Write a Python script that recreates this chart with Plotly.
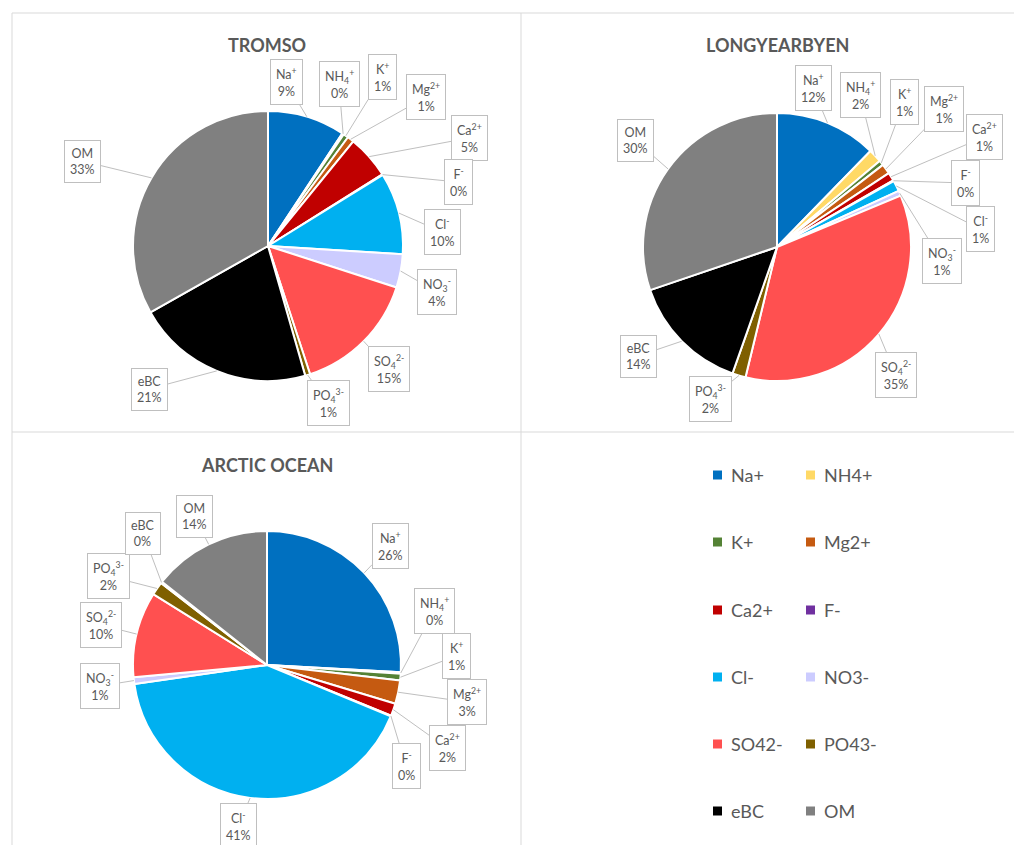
import math
import plotly.graph_objects as go

# ---------------- data ----------------
categories = ["Na+", "NH4+", "K+", "Mg2+", "Ca2+", "F-", "Cl-", "NO3-", "SO42-", "PO43-", "eBC", "OM"]
callout_names = ["Na<sup>+</sup>", "NH<sub>4</sub><sup>+</sup>", "K<sup>+</sup>", "Mg<sup>2+</sup>",
                 "Ca<sup>2+</sup>", "F<sup>-</sup>", "Cl<sup>-</sup>", "NO<sub>3</sub><sup>-</sup>",
                 "SO<sub>4</sub><sup>2-</sup>", "PO<sub>4</sub><sup>3-</sup>", "eBC", "OM"]

tromso = [9.3, 0.2, 0.6, 0.8, 5.2, 0.1, 9.8, 4.0, 15.0, 0.6, 21.3, 33.2]
longyearbyen = [12.2, 1.6, 0.6, 1.2, 1.0, 0.1, 1.3, 0.6, 34.8, 1.6, 14.3, 30.0]
arctic_ocean = [25.8, 0.2, 0.8, 2.8, 1.5, 0.1, 41.4, 0.8, 10.3, 1.6, 0.2, 14.3]

site_titles = ["TROMSO", "LONGYEARBYEN", "ARCTIC OCEAN"]

# ---------------- styles / layout ----------------
colors = ["#0070C0", "#FFD966", "#548235", "#C55A11", "#C00000", "#7030A0",
          "#00B0F0", "#CCCCFF", "#FF5050", "#7F6000", "#000000", "#808080"]

W, H = 1022, 845          # browser window
OFF = 8                    # default page body margin
FW, FH = W - OFF, H - OFF  # figure size
FONT = "Lato, 'Open Sans', sans-serif"
TXT = "#595959"
GRID = "#D9D9D9"

# pie centre (screen px), radius (px)
pie_geom = [(268, 246, 135), (777, 247, 134), (267, 665, 134)]
title_pos = [(267, 45), (777, 45), (267, 465)]

# callout box centres (screen px) for each category, per site
callout_pos = [
    [(286, 82), (339, 84), (382, 77), (426, 97), (469, 138), (458, 182),
     (442, 232), (437, 292), (389, 369), (328, 403), (149, 389), (82, 161)],
    [(813, 88), (860, 95), (904, 102), (944, 109), (984, 137), (965, 183),
     (980, 229), (942, 261), (896, 375), (710, 399), (638, 356), (635, 140)],
    [(390, 546), (434, 611), (456, 656), (467, 702), (447, 748), (406, 766),
     (238, 826), (100, 686), (101, 625), (108, 576), (143, 533), (194, 516)],
]

legend_cols = [713, 806]
legend_rows = [475, 542, 610, 677, 744, 811]

fig = go.Figure()

# hidden screen-pixel axes for annotations / shapes
fig.add_trace(go.Scatter(x=[], y=[], showlegend=False, hoverinfo="skip"))

annotations = []
for s, (vals, title) in enumerate(zip([tromso, longyearbyen, arctic_ocean], site_titles)):
    cx, cy, r = pie_geom[s]
    fig.add_trace(go.Pie(
        labels=categories, values=vals, sort=False, direction="clockwise", rotation=0,
        marker=dict(colors=colors, line=dict(color="white", width=2)),
        textinfo="none", showlegend=False, name=title,
        domain=dict(x=[(cx - r - OFF) / FW, (cx + r - OFF) / FW],
                    y=[1 - (cy + r - OFF) / FH, 1 - (cy - r - OFF) / FH]),
    ))
    total = sum(vals)
    cum = 0.0
    for i, v in enumerate(vals):
        mid = (cum + v / 2) / total * 2 * math.pi
        cum += v
        tx = cx + r * math.sin(mid)
        ty = cy - r * math.cos(mid)
        bx, by = callout_pos[s][i]
        pct = int(v / total * 100 + 0.5)
        annotations.append(dict(
            x=tx, y=ty, xref="x", yref="y", ax=bx, ay=by, axref="x", ayref="y",
            text=f"{callout_names[i]}<br>{pct}%", showarrow=True, arrowhead=0,
            arrowwidth=1, arrowcolor="#BFBFBF", standoff=0, startstandoff=0,
            bordercolor="#BFBFBF", borderwidth=1, borderpad=5, bgcolor="white",
            font=dict(family=FONT, size=12.5, color=TXT),
        ))
    tx, ty = title_pos[s]
    annotations.append(dict(
        x=tx, y=ty, xref="x", yref="y", text=f"<b>{title}</b>", showarrow=False,
        font=dict(family=FONT, size=18, color=TXT),
    ))

# legend (two columns)
shapes = []
for i, (cat, col) in enumerate(zip(categories, colors)):
    lx = legend_cols[i % 2]
    ly = legend_rows[i // 2]
    shapes.append(dict(type="rect", xref="x", yref="y", x0=lx, x1=lx + 9, y0=ly - 4.5, y1=ly + 4.5,
                       fillcolor=col, line=dict(width=0)))
    annotations.append(dict(
        x=lx + 16, y=ly, xref="x", yref="y", xanchor="left", yanchor="middle",
        text=cat, showarrow=False, font=dict(family=FONT, size=18, color=TXT),
    ))

# panel borders
for x0, y0, x1, y1 in [(12, 13, W, 13), (12, 13, 12, H), (521, 13, 521, H), (12, 432, W, 432)]:
    shapes.append(dict(type="line", xref="x", yref="y", x0=x0, y0=y0, x1=x1, y1=y1,
                       line=dict(color=GRID, width=1), layer="below"))

fig.update_layout(
    width=FW, height=FH, margin=dict(l=0, r=0, t=0, b=0),
    paper_bgcolor="white", plot_bgcolor="rgba(0,0,0,0)",
    xaxis=dict(range=[OFF, W], visible=False, domain=[0, 1], fixedrange=True),
    yaxis=dict(range=[H, OFF], visible=False, domain=[0, 1], fixedrange=True),
    annotations=annotations, shapes=shapes, showlegend=False,
)

fig.write_html("out.html")
